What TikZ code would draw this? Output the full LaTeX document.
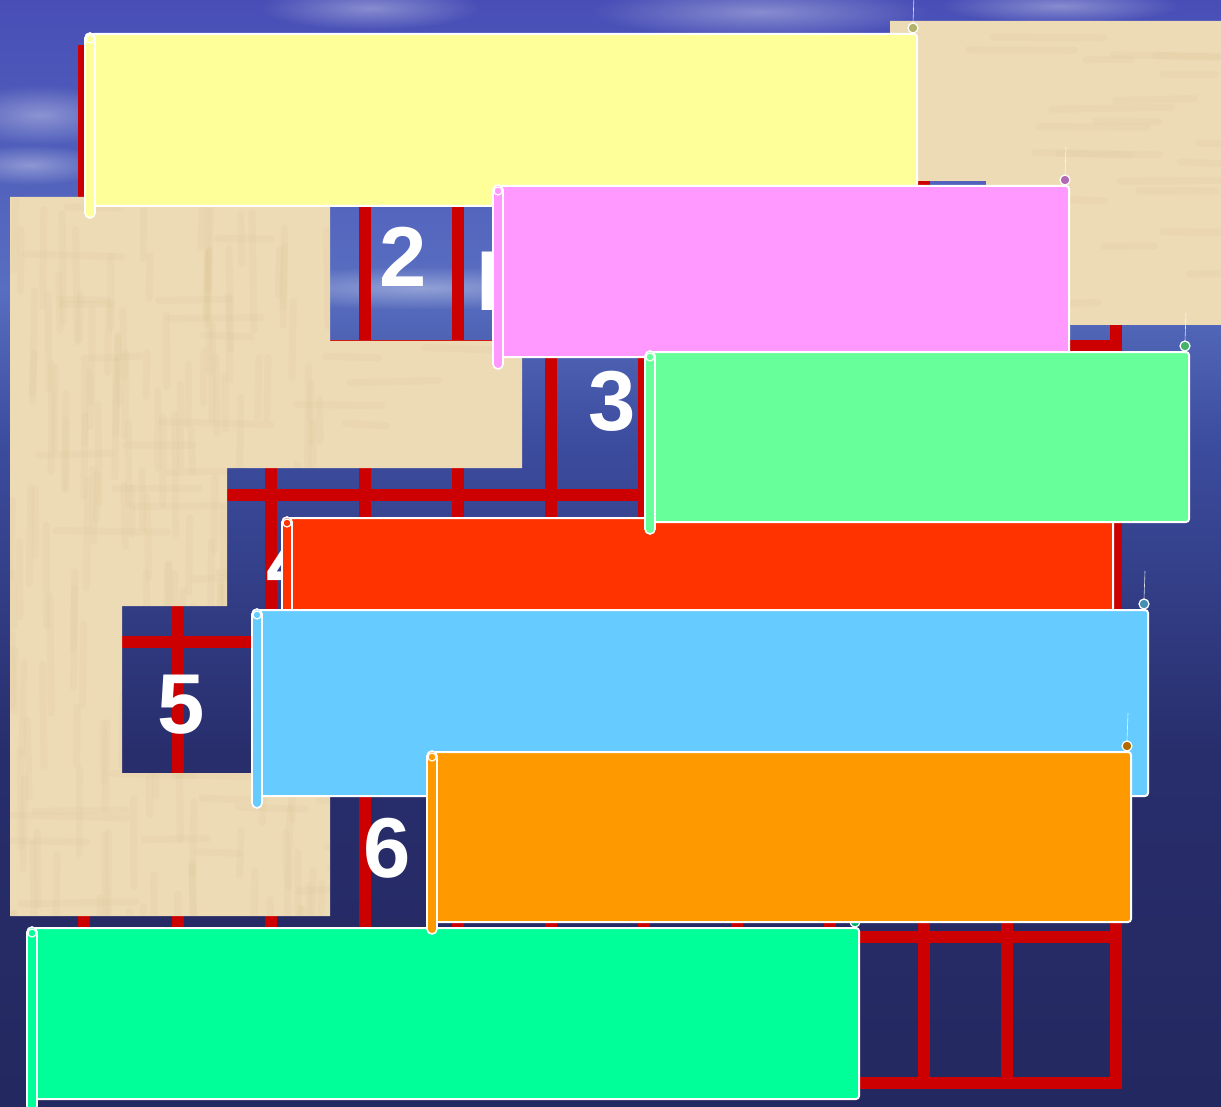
\documentclass[tikz,border=0pt]{standalone}
\usepackage{fontspec}
\setmainfont{Liberation Sans}
\usetikzlibrary{positioning,fadings}
\tikzfading[name=soft haze, inner color=transparent!0, outer color=transparent!100]
\definecolor{gridRed}{RGB}{204,0,0}
\definecolor{sandTone}{RGB}{237,219,182}
\definecolor{sandDark}{RGB}{205,175,120}
\definecolor{skyTop}{RGB}{72,78,182}
\definecolor{skyHaze}{RGB}{88,110,192}
\definecolor{seaMid}{RGB}{60,76,158}
\definecolor{seaDark}{RGB}{40,46,108}
\definecolor{seaDeep}{RGB}{36,40,96}
\definecolor{scrollYellow}{RGB}{255,255,153}
\definecolor{scrollPink}{RGB}{255,153,255}
\definecolor{scrollMint}{RGB}{102,255,153}
\definecolor{scrollRed}{RGB}{255,51,0}
\definecolor{scrollSky}{RGB}{102,204,255}
\definecolor{scrollOrange}{RGB}{255,153,0}
\definecolor{scrollSea}{RGB}{0,255,153}
\pgfdeclareverticalshading{skysea}{100bp}{color(0bp)=(seaDeep); color(25bp)=(seaDeep); color(41bp)=(seaDark); color(55bp)=(seaMid); color(62bp)=(skyHaze); color(75bp)=(skyTop); color(100bp)=(skyTop)}
% scroll: name, colour, left x, top y, width, height
\newcommand{\scrollbanner}[6]{%
  \node[bannerbody, fill=#2, minimum width=#5pt, minimum height=#6pt, anchor=north west] (#1) at (#3,#4) {};
  \draw[rollbar, fill=#2] ([xshift=-5pt]#1.north west) rectangle ([xshift=5pt,yshift=-11pt]#1.south west);
  \draw[curl] ([yshift=-6pt]#1.north west) circle (4pt);
  \draw[curl, fill=#2!70!black] ([xshift=-5pt,yshift=5pt]#1.north east) circle (5pt);
  \draw[glint] ([xshift=-5pt,yshift=10pt]#1.north east) -- ++(1pt,28pt);
}

\begin{document}
\begin{tikzpicture}[
  x=1pt, y=-1pt,
  gridline/.style={draw=gridRed, line width=12pt, line cap=rect},
  num/.style={text=white, inner sep=0pt, font=\fontsize{85}{85}\selectfont\bfseries},
  sand/.style={fill=sandTone},
  grain/.style={draw=sandDark, line width=7pt, opacity=0.07, line cap=round},
  haze/.style={fill=white, opacity=0.35, path fading=soft haze},
  bannerbody/.style={draw=white, line width=2pt, rounded corners=3pt, inner sep=0pt},
  rollbar/.style={draw=white, line width=1.6pt, rounded corners=5pt},
  curl/.style={draw=white, line width=1.2pt},
  glint/.style={draw=white, line width=0.6pt, opacity=0.8}
]
\useasboundingbox (0,0) rectangle (1221,1107);
\fill[shading=skysea] (0,0) rectangle (1221,1107);
\fill[haze] (370,8) ellipse [x radius=110, y radius=22];
\fill[haze] (760,12) ellipse [x radius=170, y radius=26];
\fill[haze] (1060,6) ellipse [x radius=120, y radius=18];
\fill[haze] (40,115) ellipse [x radius=90, y radius=30];
\fill[haze] (30,165) ellipse [x radius=80, y radius=20];
\fill[haze] (420,288) ellipse [x radius=190, y radius=22];

% crossword grid
\foreach \gx in {84,178,271,365,458,551,644,737,830,924,1007,1116}
  \draw[gridline] (\gx,51) -- (\gx,1083);
\foreach \gy in {51,198,346,495,642,789,937,1083}
  \draw[gridline] (84,\gy) -- (1116,\gy);

\node[num] (n2) at (403.5,257) {2};
\node[num, anchor=base west] (cellword) at (476,311) {П};
\node[num] (n3) at (612.5,401) {3};
\node[num, anchor=base west] (n4) at (266,592) {4};
\node[num] (n5) at (181,705) {5};
\node[num] (n6) at (387.5,848) {6};

% sand cover
\begin{scope}
  \clip (10,197) -- (330,197) -- (330,341) -- (522,341) -- (522,468) -- (227,468) -- (227,606)
    -- (122,606) -- (122,773) -- (330,773) -- (330,916) -- (10,916) -- cycle
    (890,21) -- (1221,21) -- (1221,325) -- (986,325) -- (986,181) -- (890,181) -- cycle;
  \fill[sand] (0,0) rectangle (1221,1107);
  \pgfmathsetseed{11}
  \foreach \k in {1,...,160}
    \draw[grain] ({10+rnd*320},{197+rnd*720}) -- ++({rnd*4-2},{40+rnd*80});
  \foreach \k in {1,...,220}
    \draw[grain] ({10+rnd*1211},{21+rnd*900}) -- ++({40+rnd*80},{rnd*6-3});
\end{scope}

% scrolls, back to front
\scrollbanner{yellowScroll}{scrollYellow}{90}{33}{826}{172}
\scrollbanner{pinkScroll}{scrollPink}{498}{185}{570}{171}
\scrollbanner{redScroll}{scrollRed}{287}{517}{825}{172}
\scrollbanner{mintScroll}{scrollMint}{650}{351}{538}{170}
\scrollbanner{skyScroll}{scrollSky}{257}{609}{890}{186}
\scrollbanner{seaScroll}{scrollSea}{32}{927}{826}{171}
\scrollbanner{orangeScroll}{scrollOrange}{432}{751}{698}{170}
\end{tikzpicture}
\end{document}
